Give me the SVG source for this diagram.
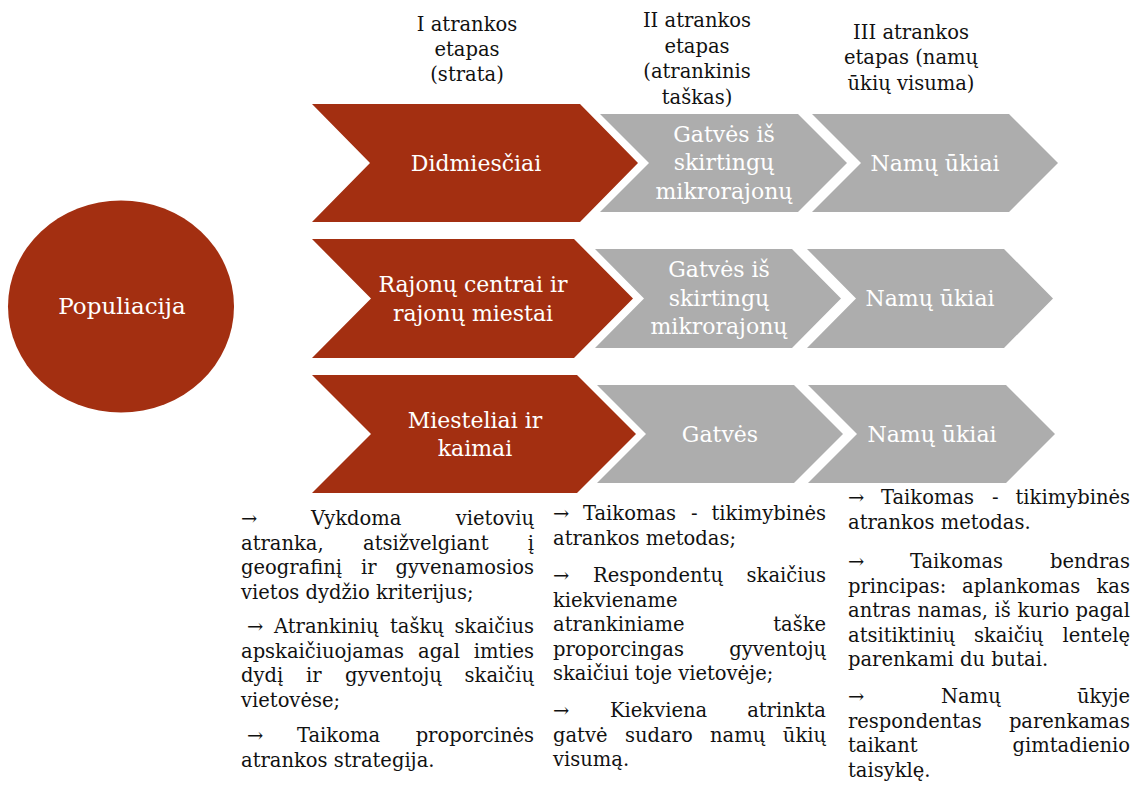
<svg xmlns="http://www.w3.org/2000/svg" width="1143" height="785" viewBox="0 0 1143 785">
<style>
.red{fill:#A32F11}
.gray{fill:#ADADAD}
.lbl{font-family:"DejaVu Serif","Liberation Serif",serif;font-size:22px;fill:#FFFFFF;text-anchor:middle}
.big{font-size:23px}
.hd{font-family:"DejaVu Serif","Liberation Serif",serif;font-size:19.5px;fill:#111111;text-anchor:middle}
.tx{font-family:"DejaVu Serif","Liberation Serif",serif;font-size:19.5px;fill:#111111}
.e{text-anchor:end}
</style>
<rect width="1143" height="785" fill="#FFFFFF"/>

<g id="headers">
<text class="hd"><tspan x="467" y="31">I atrankos</tspan><tspan x="467" y="56">etapas</tspan><tspan x="467" y="81">(strata)</tspan></text>
<text class="hd"><tspan x="697" y="27">II atrankos</tspan><tspan x="697" y="52.5">etapas</tspan><tspan x="697" y="78">(atrankinis</tspan><tspan x="697" y="103.5">taškas)</tspan></text>
<text class="hd"><tspan x="911" y="39">III atrankos</tspan><tspan x="911" y="64">etapas (namų</tspan><tspan x="911" y="89.5">ūkių visuma)</tspan></text>
</g>

<g id="connectors"></g>

<g id="populiacija">
<ellipse class="red" cx="121" cy="306.5" rx="113" ry="106"/>
<text class="lbl big" x="122" y="314">Populiacija</text>
</g>

<g id="didmiesciai">
<path class="red" d="M312,104 L580,104 L638,163 L580,222 L312,222 L370,163 Z"/>
<text class="lbl" x="476" y="171">Didmiesčiai</text>
</g>
<g id="gatves-1">
<path class="gray" d="M600,114 L798,114 L847,163 L798,212 L600,212 L649,163 Z"/>
<text class="lbl"><tspan x="724" y="141.5">Gatvės iš</tspan><tspan x="724" y="170">skirtingų</tspan><tspan x="724" y="198.5">mikrorajonų</tspan></text>
</g>
<g id="namu-ukiai-1">
<path class="gray" d="M812,114 L1009,114 L1058,163 L1009,212 L812,212 L861,163 Z"/>
<text class="lbl" x="935" y="171">Namų ūkiai</text>
</g>

<g id="rajonu-centrai">
<path class="red" d="M312,239 L574,239 L633,298.5 L574,358 L312,358 L371,298.5 Z"/>
<text class="lbl"><tspan x="473" y="292">Rajonų centrai ir</tspan><tspan x="473" y="320.5">rajonų miestai</tspan></text>
</g>
<g id="gatves-2">
<path class="gray" d="M595,249 L792,249 L841,298.5 L792,348 L595,348 L644,298.5 Z"/>
<text class="lbl"><tspan x="719" y="277">Gatvės iš</tspan><tspan x="719" y="305.5">skirtingų</tspan><tspan x="719" y="334">mikrorajonų</tspan></text>
</g>
<g id="namu-ukiai-2">
<path class="gray" d="M807,249 L1004,249 L1053,298.5 L1004,348 L807,348 L856,298.5 Z"/>
<text class="lbl" x="930" y="306">Namų ūkiai</text>
</g>

<g id="miesteliai">
<path class="red" d="M312,375 L577,375 L636,434 L577,493 L312,493 L371,434 Z"/>
<text class="lbl"><tspan x="475" y="427.5">Miesteliai ir</tspan><tspan x="475" y="456">kaimai</tspan></text>
</g>
<g id="gatves-3">
<path class="gray" d="M597,385 L794,385 L843,434 L794,483 L597,483 L646,434 Z"/>
<text class="lbl" x="720" y="442">Gatvės</text>
</g>
<g id="namu-ukiai-3">
<path class="gray" d="M808,385 L1006,385 L1055,434 L1006,483 L808,483 L857,434 Z"/>
<text class="lbl" x="932" y="442">Namų ūkiai</text>
</g>

<g id="notes-1">
<text class="tx" y="525"><tspan x="241">→</tspan><tspan x="311">Vykdoma</tspan><tspan x="534" class="e">vietovių</tspan></text>
<text class="tx" y="549.5"><tspan x="241">atranka,</tspan><tspan x="363">atsižvelgiant</tspan><tspan x="534" class="e">į</tspan></text>
<text class="tx" y="574"><tspan x="241">geografinį</tspan><tspan x="361">ir</tspan><tspan x="534" class="e">gyvenamosios</tspan></text>
<text class="tx" x="241" y="598.5">vietos dydžio kriterijus;</text>
<text class="tx" y="633"><tspan x="247">→</tspan><tspan x="274">Atrankinių</tspan><tspan x="390">taškų</tspan><tspan x="534" class="e">skaičius</tspan></text>
<text class="tx" y="657.5"><tspan x="241">apskaičiuojamas</tspan><tspan x="418">agal</tspan><tspan x="534" class="e">imties</tspan></text>
<text class="tx" y="682"><tspan x="241">dydį</tspan><tspan x="306">ir</tspan><tspan x="345">gyventojų</tspan><tspan x="534" class="e">skaičių</tspan></text>
<text class="tx" x="241" y="706.5">vietovėse;</text>
<text class="tx" y="742"><tspan x="247">→</tspan><tspan x="297">Taikoma</tspan><tspan x="534" class="e">proporcinės</tspan></text>
<text class="tx" x="241" y="766.5">atrankos strategija.</text>
</g>

<g id="notes-2">
<text class="tx" y="520"><tspan x="553">→</tspan><tspan x="583">Taikomas</tspan><tspan x="691">-</tspan><tspan x="826" class="e">tikimybinės</tspan></text>
<text class="tx" x="553" y="544.5">atrankos metodas;</text>
<text class="tx" y="582"><tspan x="553">→</tspan><tspan x="593">Respondentų</tspan><tspan x="826" class="e">skaičius</tspan></text>
<text class="tx" x="553" y="606.5">kiekviename</text>
<text class="tx" y="631"><tspan x="553">atrankiniame</tspan><tspan x="826" class="e">taške</tspan></text>
<text class="tx" y="655.5"><tspan x="553">proporcingas</tspan><tspan x="826" class="e">gyventojų</tspan></text>
<text class="tx" x="553" y="680">skaičiui toje vietovėje;</text>
<text class="tx" y="717"><tspan x="553">→</tspan><tspan x="610">Kiekviena</tspan><tspan x="826" class="e">atrinkta</tspan></text>
<text class="tx" y="741.5"><tspan x="553">gatvė</tspan><tspan x="625">sudaro</tspan><tspan x="710">namų</tspan><tspan x="826" class="e">ūkių</tspan></text>
<text class="tx" x="553" y="766">visumą.</text>
</g>

<g id="notes-3">
<text class="tx" y="504"><tspan x="848">→</tspan><tspan x="881">Taikomas</tspan><tspan x="992">-</tspan><tspan x="1130" class="e">tikimybinės</tspan></text>
<text class="tx" x="848" y="528.5">atrankos metodas.</text>
<text class="tx" y="568"><tspan x="848">→</tspan><tspan x="910">Taikomas</tspan><tspan x="1130" class="e">bendras</tspan></text>
<text class="tx" y="592.5"><tspan x="848">principas:</tspan><tspan x="962">aplankomas</tspan><tspan x="1130" class="e">kas</tspan></text>
<text class="tx" y="617"><tspan x="848">antras</tspan><tspan x="917.5">namas,</tspan><tspan x="994.5">iš</tspan><tspan x="1017.5">kurio</tspan><tspan x="1130" class="e">pagal</tspan></text>
<text class="tx" y="641.5"><tspan x="848">atsitiktinių</tspan><tspan x="974">skaičių</tspan><tspan x="1130" class="e">lentelę</tspan></text>
<text class="tx" x="848" y="666">parenkami du butai.</text>
<text class="tx" y="703"><tspan x="848">→</tspan><tspan x="941">Namų</tspan><tspan x="1130" class="e">ūkyje</tspan></text>
<text class="tx" y="727.5"><tspan x="848">respondentas</tspan><tspan x="1130" class="e">parenkamas</tspan></text>
<text class="tx" y="752"><tspan x="848">taikant</tspan><tspan x="1130" class="e">gimtadienio</tspan></text>
<text class="tx" x="848" y="776.5">taisyklę.</text>
</g>
</svg>
